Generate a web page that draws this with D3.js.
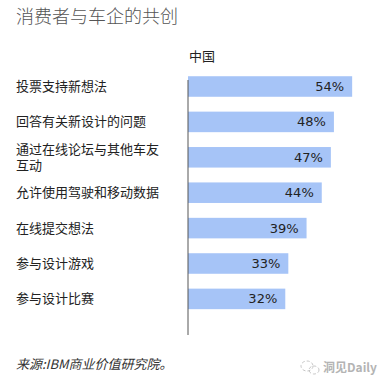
<!DOCTYPE html>
<html><head><meta charset="utf-8">
<script src="https://cdn.jsdelivr.net/npm/d3@7"></script>
<style>
html,body{margin:0;padding:0;background:#fff;}
svg{display:block;font-family:"Noto Sans CJK SC","Noto Sans",sans-serif;}
</style></head>
<body>
<svg id="chart" width="379" height="386"></svg>
<script>
const title = "消费者与车企的共创";
const seriesName = "中国";
const categories = [
  ["投票支持新想法"],
  ["回答有关新设计的问题"],
  ["通过在线论坛与其他车友", "互动"],
  ["允许使用驾驶和移动数据"],
  ["在线提交想法"],
  ["参与设计游戏"],
  ["参与设计比赛"]
];
const values = [54, 48, 47, 44, 39, 33, 32];
const source = "来源:IBM商业价值研究院。";
const watermark = "洞见Daily";

const svg = d3.select("#chart");
const keys = categories.map((c, i) => i);

const x = d3.scaleLinear().domain([0, 100]).range([188, 492]);
const y = d3.scaleBand().domain(keys).range([68.8, 316.6]).paddingInner(0.42).paddingOuter(0.21);

svg.append("text").attr("x", 16).attr("y", 23)
  .attr("font-size", 18).attr("fill", "#555").attr("font-weight", 300)
  .text(title);

svg.append("text").attr("x", 189).attr("y", 61)
  .attr("font-size", 13).attr("fill", "#222")
  .text(seriesName);

svg.selectAll("rect.bar").data(values).join("rect")
  .attr("class", "bar")
  .attr("x", x(0)).attr("y", (d, i) => y(i))
  .attr("width", d => x(d) - x(0)).attr("height", y.bandwidth())
  .attr("fill", "#a6c4f7");

svg.append("line").attr("x1", 188).attr("x2", 188).attr("y1", 80).attr("y2", 335)
  .attr("stroke", "#555").attr("stroke-width", 1);

svg.selectAll("text.val").data(values).join("text")
  .attr("class", "val")
  .attr("x", d => x(d) - 8).attr("y", (d, i) => y(i) + y.bandwidth() / 2 + 4.5)
  .attr("text-anchor", "end").attr("font-size", 13)
  .attr("font-family", "DejaVu Sans, Verdana, sans-serif")
  .attr("fill", "#222")
  .text(d => d + "%");

const lab = svg.selectAll("text.lab").data(categories).join("text")
  .attr("class", "lab")
  .attr("x", 16)
  .attr("font-size", 13).attr("fill", "#222");
lab.each(function(lines, i) {
  const cy = y(i) + y.bandwidth() / 2;
  const lh = 16;
  const y0 = cy - (lines.length - 1) * lh / 2 + 4.5;
  d3.select(this).selectAll("tspan").data(lines).join("tspan")
    .attr("x", 16).attr("y", (d, j) => y0 + j * lh).text(d => d);
});

svg.append("text").attr("x", 16).attr("y", 369)
  .attr("font-size", 13).attr("font-style", "italic").attr("fill", "#333")
  .text(source);

// watermark
const wm = svg.append("g").attr("opacity", 0.55);
wm.append("ellipse").attr("cx", 307).attr("cy", 366).attr("rx", 6).attr("ry", 5)
  .attr("fill", "none").attr("stroke", "#999").attr("stroke-dasharray", "3,2");
wm.append("ellipse").attr("cx", 314).attr("cy", 370).attr("rx", 5).attr("ry", 4)
  .attr("fill", "none").attr("stroke", "#999").attr("stroke-dasharray", "3,2");
wm.append("text").attr("x", 323).attr("y", 372)
  .attr("font-size", 12).attr("fill", "#777").attr("font-weight", 700)
  .text(watermark);
</script>
</body></html>
